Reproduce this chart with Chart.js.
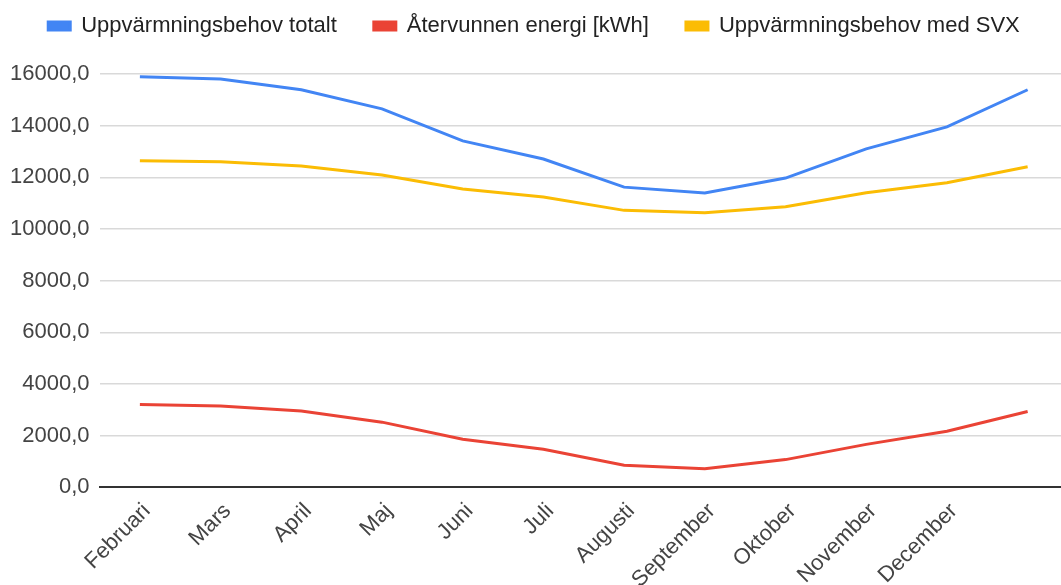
<!DOCTYPE html>
<html>
<head>
<meta charset="utf-8">
<script src="https://cdn.jsdelivr.net/npm/chart.js@4/dist/chart.umd.min.js"></script>
<style>
  html, body { margin: 0; padding: 0; background: #fff; overflow: hidden; }
  #wrap { width: 1068px; height: 596px; }
</style>
</head>
<body>
<div id="wrap"><canvas id="chart"></canvas></div>
<script>
const months = ['Februari', 'Mars', 'April', 'Maj', 'Juni', 'Juli', 'Augusti', 'September', 'Oktober', 'November', 'December', '']
const behovTotalt = [15890, 15810, 15390, 14650, 13410, 12710, 11620, 11390, 11970, 13100, 13950, 15390]
const atervunnen = [3200, 3150, 2950, 2520, 1860, 1470, 850, 720, 1070, 1660, 2170, 2930]
const behovMedSVX = [12640, 12600, 12440, 12090, 11550, 11240, 10720, 10630, 10860, 11400, 11790, 12410]
const yTicks = [0, 2000, 4000, 6000, 8000, 10000, 12000, 14000, 16000]

const FONT = "Arial, 'Liberation Sans', sans-serif"

const line = (label, data, color) => ({
    label,
    data,
    borderColor: color,
    backgroundColor: color,
    borderWidth: 3,
    pointRadius: 0,
    tension: 0,
    fill: false
})

// wide gaps between legend items, but keep the legend short and near the top
const legendFix = {
    id: 'legendFix',
    beforeInit(chart) {
        const lg = chart.legend
        const fit = lg.fit
        const draw = lg.draw
        lg.fit = function () {
            fit.call(this)
            this.height = 74
        }
        lg.draw = function () {
            const t = this.top
            this.top = t - 22
            draw.call(this)
            this.top = t
        }
    }
}

const ctx = document.getElementById('chart')
new Chart(ctx, {
    type: 'line',
    data: {
        labels: months,
        datasets: [
            line('Uppvärmningsbehov totalt', behovTotalt, '#4285f4'),
            line('Återvunnen energi [kWh]', atervunnen, '#ea4335'),
            line('Uppvärmningsbehov med SVX', behovMedSVX, '#fbbc04')
        ]
    },
    plugins: [legendFix],
    options: {
        responsive: true,
        maintainAspectRatio: false,
        animation: false,
        layout: { padding: 0 },
        plugins: {
            legend: {
                position: 'top',
                labels: {
                    color: '#222',
                    font: { family: FONT, size: 22 },
                    boxWidth: 22,
                    boxHeight: 8,
                    padding: 37
                }
            },
            tooltip: { enabled: false }
        },
        scales: {
            x: {
                offset: true,
                grid: { display: false },
                border: { color: '#333', width: 2 },
                ticks: {
                    color: '#444',
                    font: { family: FONT, size: 22 },
                    minRotation: 45,
                    maxRotation: 45,
                    autoSkip: false,
                    padding: 3,
                    labelOffset: 7
                }
            },
            y: {
                min: 0,
                max: 16000,
                afterBuildTicks: (scale) => { scale.ticks = yTicks.map(v => ({ value: v })) },
                grid: {
                    drawTicks: false,
                    color: (c) => c.tick && c.tick.value === 0 ? '#333' : '#d9d9d9',
                    lineWidth: (c) => c.tick && c.tick.value === 0 ? 2 : 1.5
                },
                border: { display: false },
                ticks: {
                    color: '#444',
                    font: { family: FONT, size: 22 },
                    padding: 10,
                    callback: (v) => Number(v).toFixed(1).replace('.', ',')
                }
            }
        }
    }
})
</script>
</body>
</html>
